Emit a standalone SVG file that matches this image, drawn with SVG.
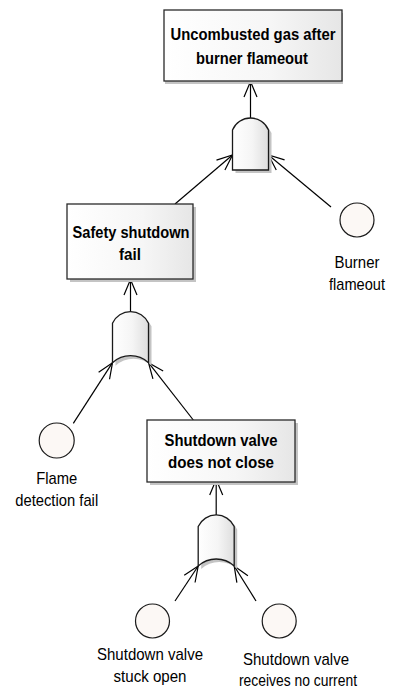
<svg xmlns="http://www.w3.org/2000/svg" xmlns:xlink="http://www.w3.org/1999/xlink" width="393" height="691" viewBox="0 0 393 691">
<style>
.box{stroke:#2a2a2a;stroke-width:1.3;fill:url(#boxGrad)}
.shadow{fill:#c4c4c4}
.gate{stroke:#1a1a1a;stroke-width:1.3;fill:url(#gateGrad)}
.ev{stroke:#1a1a1a;stroke-width:1.2;fill:#fcf8f5}
.conn{stroke:#000;stroke-width:1.2;fill:none;marker-end:url(#arrow)}
.bt{font-family:"Liberation Sans",Arial,sans-serif;font-weight:bold;font-size:17px;fill:#000;text-anchor:middle}
.lt{font-family:"Liberation Sans",Arial,sans-serif;font-size:17px;fill:#000;text-anchor:middle}
</style>
<defs>
<linearGradient id="boxGrad" x1="0" y1="0" x2="1" y2="0">
<stop offset="0" stop-color="#ffffff"/>
<stop offset="0.6" stop-color="#f6f6f6"/>
<stop offset="1" stop-color="#e6e6e6"/>
</linearGradient>
<linearGradient id="gateGrad" x1="0" y1="0" x2="1" y2="0">
<stop offset="0" stop-color="#ffffff"/>
<stop offset="0.55" stop-color="#f5f5f5"/>
<stop offset="1" stop-color="#dedede"/>
</linearGradient>
<path id="orGate" d="M0,51 L0,11.5 A19.8,19.8 0 0 1 36,11.5 L36,51 A26.6,26.6 0 0 0 0,51 Z"/>
<path id="andGate" d="M0,52 L0,12 A19.5,19.5 0 0 1 36,12 L36,52 Z"/>
<marker id="arrow" markerUnits="userSpaceOnUse" viewBox="-18 -9 20 18" markerWidth="20" markerHeight="18" refX="0" refY="0" orient="auto" overflow="visible">
<path d="M-15.5,-6.5 L0,0 L-15.5,6.5" fill="none" stroke="#000" stroke-width="1.2"/>
</marker>
</defs>

<g id="connectors">
<path class="conn" d="M250.5,118 L250.5,81.5"/>
<path class="conn" d="M175,204 L232.5,155"/>
<path class="conn" d="M331,207 L268.5,155"/>
<path class="conn" d="M130.5,311.7 L130.5,279.5"/>
<path class="conn" d="M73.3,423.3 L112.5,362.7"/>
<path class="conn" d="M193.3,420 L148.5,362.7"/>
<path class="conn" d="M216.2,515 L216.2,479.5"/>
<path class="conn" d="M175,601 L198.2,566"/>
<path class="conn" d="M256,601 L234.2,566"/>
</g>

<g id="top-event">
<rect class="shadow" x="165" y="13" width="178" height="71"/>
<rect class="box" x="164" y="10" width="178" height="71"/>
<text class="bt" x="253" y="39.5" textLength="165" lengthAdjust="spacingAndGlyphs">Uncombusted gas after</text>
<text class="bt" x="252" y="63.5" textLength="112" lengthAdjust="spacingAndGlyphs">burner flameout</text>
</g>

<g id="gate-and-1">
<use xlink:href="#andGate" href="#andGate" x="235.5" y="121" class="shadow"/>
<use xlink:href="#andGate" href="#andGate" x="232.5" y="118" class="gate"/>
</g>

<g id="burner-flameout">
<circle class="ev" cx="357" cy="220" r="17"/>
<text class="lt" x="357" y="268" textLength="45" lengthAdjust="spacingAndGlyphs">Burner</text>
<text class="lt" x="357" y="290" textLength="56" lengthAdjust="spacingAndGlyphs">flameout</text>
</g>

<g id="safety-shutdown-fail">
<rect class="shadow" x="70" y="207" width="126" height="75"/>
<rect class="box" x="67" y="204" width="126" height="75"/>
<text class="bt" x="131" y="238" textLength="117" lengthAdjust="spacingAndGlyphs">Safety shutdown</text>
<text class="bt" x="130" y="260" textLength="22" lengthAdjust="spacingAndGlyphs">fail</text>
</g>

<g id="gate-or-2">
<use xlink:href="#orGate" href="#orGate" x="115.5" y="314.7" class="shadow"/>
<use xlink:href="#orGate" href="#orGate" x="112.5" y="311.7" class="gate"/>
</g>

<g id="flame-detection-fail">
<circle class="ev" cx="56.7" cy="440.5" r="17.5"/>
<text class="lt" x="56.7" y="484" textLength="41" lengthAdjust="spacingAndGlyphs">Flame</text>
<text class="lt" x="56.7" y="506" textLength="83" lengthAdjust="spacingAndGlyphs">detection fail</text>
</g>

<g id="shutdown-valve-does-not-close">
<rect class="shadow" x="150" y="423" width="148" height="62"/>
<rect class="box" x="147" y="420" width="148" height="62"/>
<text class="bt" x="221" y="446" textLength="113" lengthAdjust="spacingAndGlyphs">Shutdown valve</text>
<text class="bt" x="221" y="468" textLength="106" lengthAdjust="spacingAndGlyphs">does not close</text>
</g>

<g id="gate-or-3">
<use xlink:href="#orGate" href="#orGate" x="201.2" y="518" class="shadow"/>
<use xlink:href="#orGate" href="#orGate" x="198.2" y="515" class="gate"/>
</g>

<g id="shutdown-valve-stuck-open">
<circle class="ev" cx="152.5" cy="621" r="17"/>
<text class="lt" x="150" y="660" textLength="106" lengthAdjust="spacingAndGlyphs">Shutdown valve</text>
<text class="lt" x="150" y="682" textLength="73" lengthAdjust="spacingAndGlyphs">stuck open</text>
</g>

<g id="shutdown-valve-receives-no-current">
<circle class="ev" cx="279.2" cy="621" r="17"/>
<text class="lt" x="296" y="665" textLength="106" lengthAdjust="spacingAndGlyphs">Shutdown valve</text>
<text class="lt" x="298" y="686" textLength="118" lengthAdjust="spacingAndGlyphs">receives no current</text>
</g>
</svg>
